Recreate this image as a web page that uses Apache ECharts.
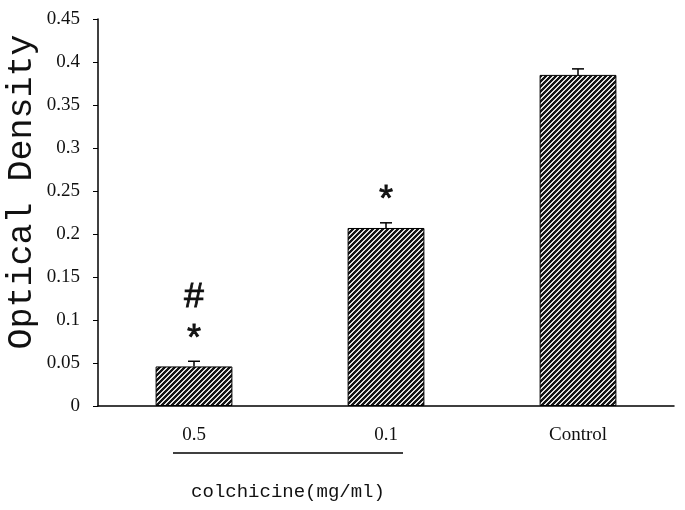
<!DOCTYPE html>
<html><head><meta charset="utf-8">
<script src="https://cdn.jsdelivr.net/npm/echarts@6/dist/echarts.min.js"></script>
<style>html,body{margin:0;padding:0;background:#fff}#c{width:685px;height:510px}</style>
</head><body><div id="c"></div>
<script>
const categories = ['0.5', '0.1', 'Control'];
const values = [0.046, 0.207, 0.385];
const errors = [0.006, 0.006, 0.007];
const annotations = ['#\n*', '*', ''];
const yTicks = [0, 0.05, 0.1, 0.15, 0.2, 0.25, 0.3, 0.35, 0.4, 0.45];

// hatch pattern
const pc = document.createElement('canvas');
pc.width = 5; pc.height = 5;
const px = pc.getContext('2d');
px.fillStyle = '#e0e0e0'; px.fillRect(0,0,5,5);
px.fillStyle = '#151515';
for (let x=0;x<5;x++) for (let y=0;y<5;y++) { if ((x+y)%5 < 3) px.fillRect(x,y,1,1); }

const chart = echarts.init(document.getElementById('c'));
chart.setOption({
  animation: false,
  grid: {left: 98, right: 11, top: 19, bottom: 104, outerBoundsMode: 'none', containLabel: false},
  xAxis: {
    type: 'category', data: categories,
    axisLine: {lineStyle: {color: '#000', width: 1.5}},
    axisTick: {show: false},
    axisLabel: {color: '#111', fontFamily: 'Liberation Serif', fontSize: 19, margin: 20}
  },
  yAxis: {
    type: 'value', min: 0, max: 0.45, interval: 0.05,
    splitLine: {show: false},
    axisLine: {show: true, lineStyle: {color: '#000', width: 1.5}},
    axisTick: {show: true, inside: false, length: 5, lineStyle: {color: '#000'}},
    axisLabel: {color: '#111', fontFamily: 'Liberation Serif', fontSize: 19, margin: 18,
      formatter: v => { const r = Math.round(v*100)/100; return yTicks.includes(r) ? String(r) : ''; }}
  },
  series: [
    {
      type: 'bar', data: values, barWidth: '40%',
      itemStyle: {color: {image: pc, repeat: 'repeat'}, borderColor: '#000', borderWidth: 1}
    },
    {
      type: 'custom',
      data: values.map((v,i) => [i, v, errors[i]]),
      renderItem: (params, api) => {
        const i = api.value(0), v = api.value(1), e = api.value(2);
        const base = api.coord([i, v]);
        const top = api.coord([i, v + e]);
        const children = [
          {type: 'line', shape: {x1: base[0], y1: base[1], x2: top[0], y2: top[1]}, style: {stroke: '#000', lineWidth: 1.5}},
          {type: 'line', shape: {x1: top[0]-6, y1: top[1], x2: top[0]+6, y2: top[1]}, style: {stroke: '#000', lineWidth: 1.5}}
        ];
        const ann = annotations[i];
        if (ann) {
          children.push({type: 'text', style: {text: ann, x: top[0], y: top[1] + 2,
            align: 'center', verticalAlign: 'bottom', fontSize: 36, lineHeight: 44,
            fontFamily: 'Liberation Mono', fill: '#111', stroke: '#111', lineWidth: 0.8}});
        }
        return {type: 'group', children};
      }
    }
  ],
  graphic: [
    {type: 'text', x: 22, y: 192, rotation: Math.PI/2,
      style: {text: 'Optical Density', x: 0, y: 0, align: 'center', verticalAlign: 'middle',
        fontFamily: 'Liberation Mono', fontSize: 35, fill: '#111'}},
    {type: 'line', shape: {x1: 173, y1: 453, x2: 403, y2: 453}, style: {stroke: '#000', lineWidth: 1.5}},
    {type: 'text', style: {text: 'colchicine(mg/ml)', x: 288, y: 492, align: 'center', verticalAlign: 'middle',
      fontFamily: 'Liberation Mono', fontSize: 19, fill: '#111'}}
  ]
});
</script></body></html>
